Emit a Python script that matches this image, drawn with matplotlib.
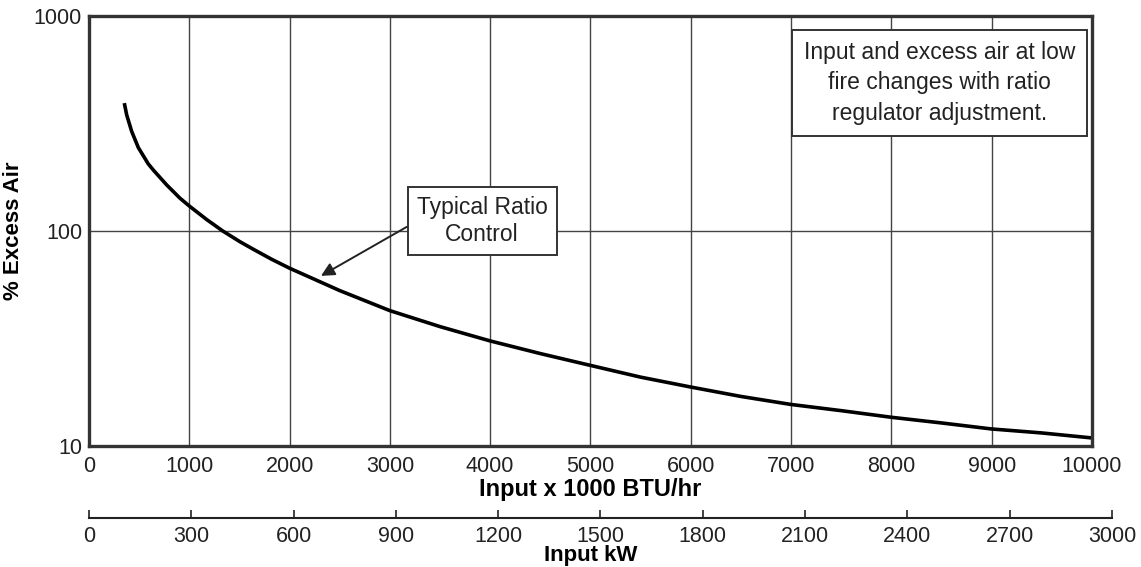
import matplotlib
matplotlib.use("Agg")
import matplotlib.pyplot as plt

plt.rcParams['font.family'] = ['Liberation Sans', 'DejaVu Sans']

# curve: input (x 1000 BTU/hr) vs % excess air
input_kbtu = [352, 376, 426, 492, 591, 641, 775, 907, 1000, 1173, 1333, 1505, 1638,
              1822, 2000, 2500, 3000, 3500, 4000, 4500, 5000, 5500, 6000, 6500,
              7000, 7500, 8000, 8500, 9000, 9500, 10000]
excess_air = [393, 346, 290, 244, 205, 192, 163.6, 142, 130.6, 113, 100, 89.1, 82.2,
              73.8, 67.1, 52.8, 42.6, 35.9, 30.8, 26.9, 23.7, 20.9, 18.8, 17.0,
              15.6, 14.6, 13.6, 12.8, 12.0, 11.5, 10.9]

btu_ticks = [0, 1000, 2000, 3000, 4000, 5000, 6000, 7000, 8000, 9000, 10000]
kw_ticks = [0, 300, 600, 900, 1200, 1500, 1800, 2100, 2400, 2700, 3000]
y_ticks = [10, 100, 1000]

note_text = "Input and excess air at low\nfire changes with ratio\nregulator adjustment."
curve_text = "Typical Ratio\nControl"

KBTU_PER_KW = 3.4

fig = plt.figure(figsize=(11.41, 5.67), dpi=100)
ax = fig.add_axes([0.078, 0.2134, 0.879, 0.7586])

ax.plot(input_kbtu, excess_air, color='black', lw=2.6, solid_capstyle='butt')
ax.set_yscale('log')
ax.set_xlim(0, 10000)
ax.set_ylim(10, 1000)
ax.set_xticks(btu_ticks)
ax.set_xticklabels([str(t) for t in btu_ticks])
ax.set_yticks(y_ticks)
ax.set_yticklabels([str(t) for t in y_ticks])
ax.minorticks_off()
ax.tick_params(length=0, labelsize=15.5, colors='#222222')
ax.tick_params(axis='x', pad=7)
ax.tick_params(axis='y', pad=5)
ax.grid(True, color='#444444', lw=1.0)
for s in ax.spines.values():
    s.set_linewidth(2.4)
    s.set_color('#333333')
    s.set_zorder(5)

ax.set_xlabel("Input x 1000 BTU/hr", fontsize=17, fontweight='bold', labelpad=1)
ax.set_ylabel("% Excess Air", fontsize=16, fontweight='bold', labelpad=7)

ax.text(0.848, 0.844, note_text, transform=ax.transAxes, ha='center', va='center',
        fontsize=16.5, color='#222222', linespacing=1.4, zorder=6,
        bbox=dict(boxstyle='square,pad=0.5', fc='white', ec='#333333', lw=1.4))

ax.annotate(curve_text, xy=(2313, 61.8), xytext=(3920, 111),
            ha='center', va='center', fontsize=16.5, color='#222222', zorder=6,
            bbox=dict(boxstyle='square,pad=0.4', fc='white', ec='#333333', lw=1.4),
            arrowprops=dict(arrowstyle='-|>', color='#222222', lw=1.4,
                            mutation_scale=20, shrinkA=0, shrinkB=0,
                            relpos=(0.0, 0.5)))

# second scale in kW below the chart
main_pos = ax.get_position()
kw_width = main_pos.width * 3000 * KBTU_PER_KW / 10000
axk = fig.add_axes([main_pos.x0, 0.087, kw_width, 0.0001])
axk.set_xlim(0, 3000)
axk.set_xticks(kw_ticks)
axk.set_xticklabels([str(t) for t in kw_ticks])
axk.set_yticks([])
for name in ['top', 'left', 'right']:
    axk.spines[name].set_visible(False)
axk.spines['bottom'].set_linewidth(1.5)
axk.spines['bottom'].set_color('#222222')
axk.patch.set_visible(False)
axk.tick_params(axis='x', direction='in', length=6, width=1.2, labelsize=15.5,
                colors='#222222', pad=6)
axk.set_xlabel("Input kW", fontsize=16, fontweight='bold', labelpad=-1.5)
axk.xaxis.label.set_position((main_pos.width / 2 / kw_width, 0))

fig.savefig("out.png", dpi=100)
